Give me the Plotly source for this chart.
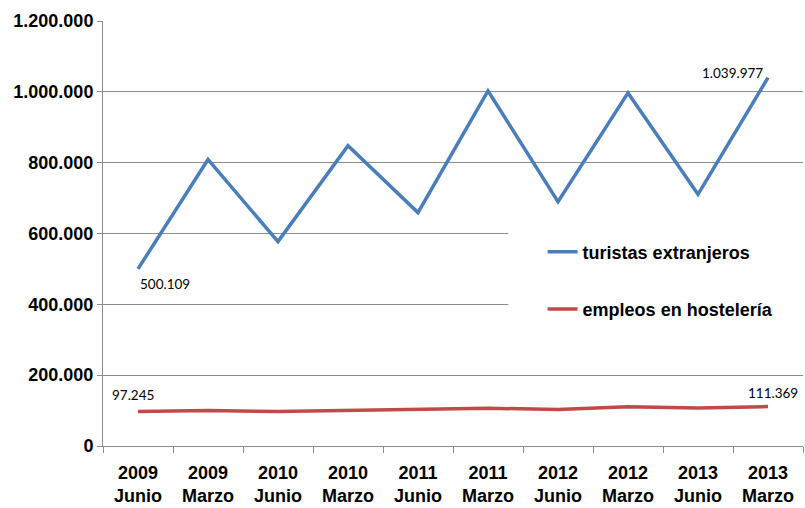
import plotly.graph_objects as go

categorias = ["2009<br>Junio", "2009<br>Marzo", "2010<br>Junio", "2010<br>Marzo", "2011<br>Junio",
              "2011<br>Marzo", "2012<br>Junio", "2012<br>Marzo", "2013<br>Junio", "2013<br>Marzo"]
turistas = [500109, 809000, 577000, 848000, 659000, 1003000, 690000, 997000, 710500, 1039977]
empleos = [97245, 100000, 97500, 101000, 104000, 106600, 103000, 111000, 107500, 111369]
y_ticks = [0, 200000, 400000, 600000, 800000, 1000000, 1200000]
y_tick_text = ["0", "200.000", "400.000", "600.000", "800.000", "1.000.000", "1.200.000"]

BLUE = "#4A7EBB"
RED = "#BE4B48"
GRID = "#8C8C8C"
BOLD = "Liberation Sans, Arial, sans-serif"
LABEL = "Lato, Noto Sans, sans-serif"

fig = go.Figure()
fig.add_trace(go.Scatter(x=categorias, y=turistas, mode="lines", name="turistas extranjeros",
                         line=dict(color=BLUE, width=3.5), legendgroup="a"))
fig.add_trace(go.Scatter(x=categorias, y=empleos, mode="lines", name="empleos en hostelería",
                         line=dict(color=RED, width=3.5), legendgroup="b"))

def fmt(v):
    return f"{v:,}".replace(",", ".")

lab_font = dict(family=LABEL, size=13.5, color="#000")
ann = [
    dict(x=categorias[0], y=turistas[0], text=fmt(turistas[0]), showarrow=False,
         xshift=27, yshift=-15, font=lab_font),
    dict(x=categorias[-1], y=turistas[-1], text=fmt(turistas[-1]), showarrow=False,
         xshift=-36, yshift=5, font=lab_font),
    dict(x=categorias[0], y=empleos[0], text=fmt(empleos[0]), showarrow=False,
         xshift=-5, yshift=17, font=lab_font),
    dict(x=categorias[-1], y=empleos[-1], text=fmt(empleos[-1]), showarrow=False,
         xshift=5, yshift=14, font=lab_font),
]

bold_font = dict(family=BOLD, size=18, color="#000", weight="bold")

fig.update_layout(
    width=805, height=508,
    margin=dict(l=103, r=2, t=21, b=62, autoexpand=False),
    paper_bgcolor="white", plot_bgcolor="white",
    separators=",.",
    annotations=ann,
    showlegend=True,
    legend=dict(x=0.628, y=0.50, xanchor="left", yanchor="top",
                bgcolor="rgba(0,0,0,0)", borderwidth=0,
                font=bold_font,
                traceorder="grouped", tracegroupgap=31, itemwidth=30),
    shapes=[dict(type="rect", xref="paper", yref="paper", x0=0.579, x1=1.01, y0=0.275, y1=0.52,
                 fillcolor="white", line=dict(width=0), layer="above")],
    xaxis=dict(type="category", showgrid=False, showline=True, linecolor=GRID, linewidth=1,
               ticks="outside", ticklen=6, tickcolor=GRID, tickson="boundaries",
               tickfont=bold_font, ticklabelstandoff=10, automargin=False,
               range=[-0.5, 9.5]),
    yaxis=dict(range=[0, 1200000], tickvals=y_ticks, ticktext=y_tick_text,
               showgrid=True, gridcolor=GRID, gridwidth=1, zeroline=False,
               showline=True, linecolor=GRID, linewidth=1, automargin=False,
               ticks="outside", ticklen=5, tickcolor=GRID,
               tickfont=bold_font),
)

fig.write_html("out.html", config={"displayModeBar": False},
               post_script="document.body.style.margin='0';document.body.style.overflow='hidden';")
